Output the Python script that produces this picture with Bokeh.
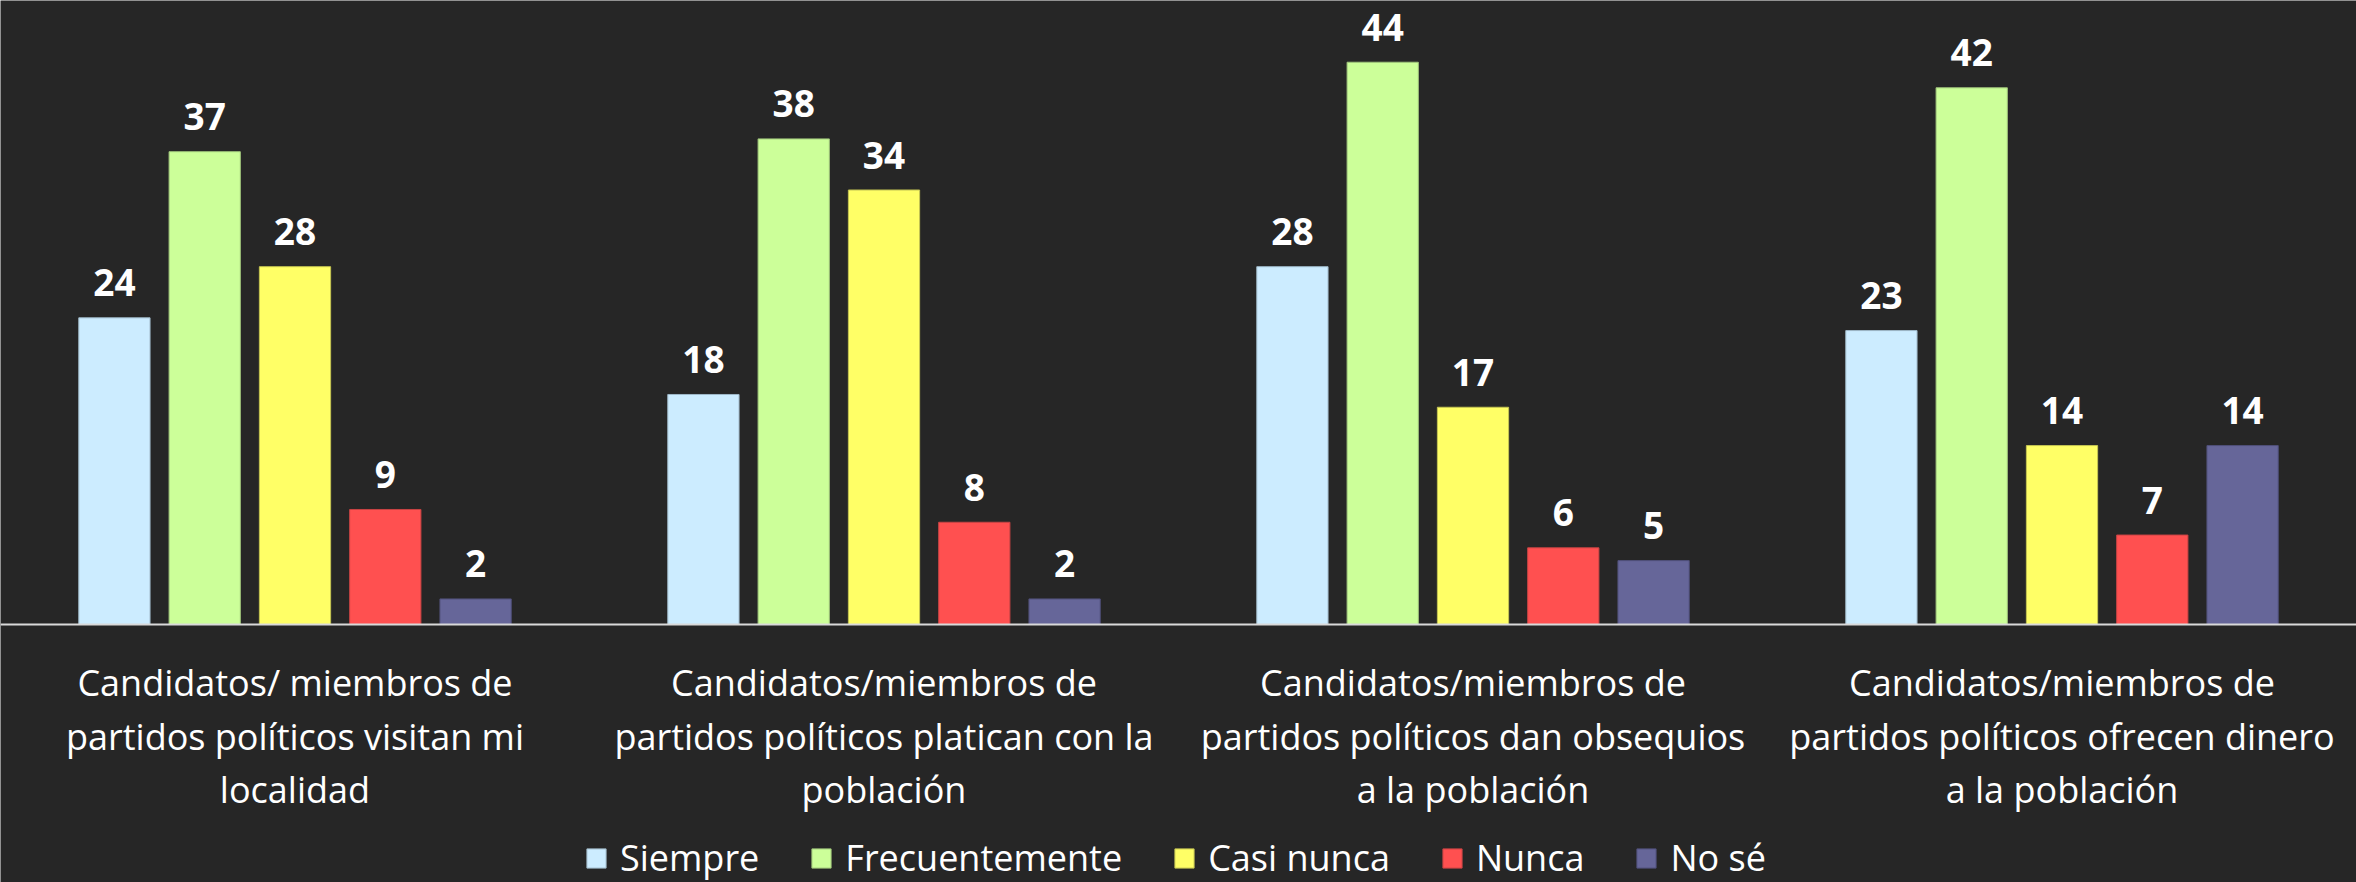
from bokeh.plotting import figure
from bokeh.models import ColumnDataSource, Range1d, Span, Legend, LegendItem
from bokeh.transform import dodge
from bokeh.core.properties import value
from bokeh.embed import file_html
from bokeh.resources import INLINE

categories = [
    "Candidatos/ miembros de\npartidos políticos visitan mi\nlocalidad",
    "Candidatos/miembros de\npartidos políticos platican con la\npoblación",
    "Candidatos/miembros de\npartidos políticos dan obsequios\na la población",
    "Candidatos/miembros de\npartidos políticos ofrecen dinero\na la población",
]
series = ["Siempre", "Frecuentemente", "Casi nunca", "Nunca", "No sé"]
siempre = [24, 18, 28, 23]
frecuentemente = [37, 38, 44, 42]
casi_nunca = [28, 34, 17, 14]
nunca = [9, 8, 6, 7]
no_se = [2, 2, 5, 14]

colors = ["#CCECFF", "#CCFF99", "#FFFF66", "#FF5050", "#666699"]
outlines = ["#9fb8c8", "#9fc47a", "#c4c452", "#c84444", "#50507a"]
BG = "#262626"
FONT = "Open Sans"

gx = [i + 0.5 for i in range(len(categories))]
src = ColumnDataSource(dict(
    gx=gx, cat=categories,
    s0=siempre, s1=frecuentemente, s2=casi_nunca, s3=nunca, s4=no_se,
    t0=[str(v) for v in siempre], t1=[str(v) for v in frecuentemente],
    t2=[str(v) for v in casi_nunca], t3=[str(v) for v in nunca],
    t4=[str(v) for v in no_se],
    y0=[0] * len(categories),
))

p = figure(width=2356, height=882, output_backend="svg", toolbar_location=None,
           x_range=Range1d(0, 4), y_range=Range1d(-20.19, 48.83),
           min_border=0, background_fill_color=BG, border_fill_color=BG)
p.axis.visible = False
p.grid.visible = False
p.outline_line_color = None

pitch = 0.1533
width = 0.121
items = []
for k, name in enumerate(series):
    off = (k - 2) * pitch
    r = p.vbar(x=dodge("gx", off, range=p.x_range), top="s%d" % k, bottom=0, width=width,
               source=src, fill_color=colors[k], line_color=outlines[k], line_width=1)
    items.append(LegendItem(label=name, renderers=[r]))
    p.text(x=dodge("gx", off, range=p.x_range), y="s%d" % k, text="t%d" % k, source=src,
           text_font=value(FONT), text_font_style="bold", text_font_size="37px",
           text_color="white", text_align="center", text_baseline="alphabetic",
           y_offset=-35)

p.add_layout(Span(location=0, dimension="width", line_color="#d9d9d9", line_width=2))

p.text(x="gx", y="y0", text="cat", source=src, text_font=value(FONT),
       text_font_size="36px", text_color="white", text_align="center",
       text_baseline="top", y_offset=34, text_line_height=1.09)

legend = Legend(items=items, orientation="horizontal", location=(584, 0),
                glyph_width=24, glyph_height=24, label_height=24,
                label_standoff=12, spacing=50, padding=0, margin=0,
                label_text_font=FONT, label_text_font_size="36px",
                label_text_color="white", background_fill_alpha=0,
                border_line_color=None)
p.add_layout(legend)

open("out.html", "w").write(file_html(p, INLINE))
